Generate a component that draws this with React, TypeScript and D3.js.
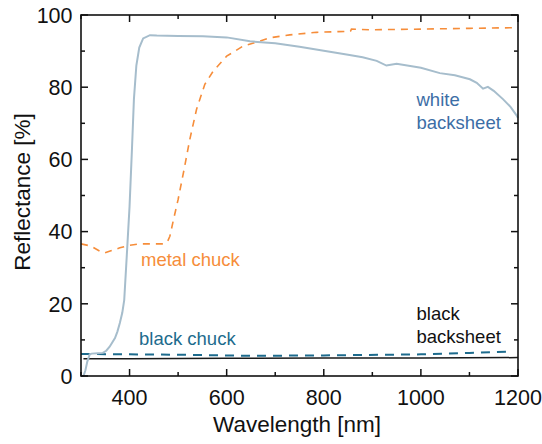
import React from "react";
import * as d3 from "d3";

const whiteWl = [300, 305, 309, 313, 318, 322, 335, 345, 352, 359, 370, 375, 380, 385, 389, 395, 400, 405, 409, 414, 420, 428, 442, 456, 500, 551, 600, 648, 700, 750, 800, 850, 880, 909, 929, 950, 1000, 1039, 1070, 1101, 1115, 1128, 1138, 1150, 1169, 1185, 1197, 1200];
const whiteVal = [0, 0, 1.5, 4, 6, 6.2, 6.3, 6.4, 7.0, 8.1, 10.5, 12.3, 14.7, 17.5, 21, 35, 47, 63, 76.7, 86, 91, 93.5, 94.4, 94.3, 94.2, 94.1, 93.8, 92.7, 92.2, 91.2, 90.1, 89.0, 88.3, 87.3, 86.0, 86.5, 85.4, 83.9, 83.3, 82.2, 81.2, 79.6, 80.1, 79.0, 76.7, 74.5, 72.2, 71.5];

const metalWl = [300, 320, 340, 349, 360, 380, 400, 421, 450, 469, 478, 483, 490, 500, 512, 524, 538, 555, 572, 600, 634, 662, 689, 730, 785, 830, 855, 857, 895, 950, 1000, 1100, 1200];
const metalVal = [36.6, 36.0, 34.5, 34.1, 34.6, 35.5, 36.2, 36.6, 36.6, 36.6, 37.2, 38.7, 43, 48.9, 57, 65.5, 73.9, 80.8, 84.4, 88.6, 91.4, 92.5, 93.7, 94.5, 95.2, 95.4, 95.5, 96.1, 95.9, 96.0, 96.1, 96.3, 96.5];

const blackChuckWl = [300, 400, 500, 650, 800, 1000, 1100, 1185];
const blackChuckVal = [6.1, 6.0, 5.9, 5.6, 5.7, 6.0, 6.4, 6.75];

const blackSheetWl = [305, 400, 600, 800, 1000, 1200];
const blackSheetVal = [4.8, 4.8, 4.9, 5.0, 5.0, 5.1];

const xMajor = [400, 600, 800, 1000, 1200];
const xMinor = [300, 500, 700, 900, 1100];
const yMajor = [0, 20, 40, 60, 80, 100];
const yMinor = [10, 30, 50, 70, 90];

const FONT = "'Liberation Sans', Arial, Helvetica, sans-serif";

export default function App() {
  const L = 81, R = 518, T = 15, B = 376;
  const x = d3.scaleLinear().domain([300, 1200]).range([L, R]);
  const y = d3.scaleLinear().domain([0, 100]).range([B, T]);
  const mk = (wl: number[], v: number[]) =>
    d3.line<number>().x((_, i) => x(wl[i])).y((d) => y(d))(v) || "";

  const maj = 7, min = 4;
  return (
    <svg width={542} height={444} style={{ position: "absolute", left: 0, top: 0, background: "#fff" }} fontFamily={FONT}>
      <path d={mk(blackSheetWl, blackSheetVal)} fill="none" stroke="#1a1a1a" strokeWidth={1.5} />
      <path d={mk(blackChuckWl, blackChuckVal)} fill="none" stroke="#1d6b8d" strokeWidth={2} strokeDasharray="9,7" />
      <path d={mk(metalWl, metalVal)} fill="none" stroke="#f68d3a" strokeWidth={1.6} strokeDasharray="7,6" />
      <path d={mk(whiteWl, whiteVal)} fill="none" stroke="#a6bdcc" strokeWidth={2} />

      <rect x={L} y={T} width={R - L} height={B - T} fill="none" stroke="#111" strokeWidth={1.6} />
      {xMajor.map((t) => (
        <g key={"xm" + t}>
          <line x1={x(t)} x2={x(t)} y1={B} y2={B - maj} stroke="#111" strokeWidth={1.5} />
          <line x1={x(t)} x2={x(t)} y1={T} y2={T + maj} stroke="#111" strokeWidth={1.5} />
          <text x={x(t)} y={B + 29} fontSize={21.5} textAnchor="middle" fill="#111">{t}</text>
        </g>
      ))}
      {xMinor.map((t) => (
        <g key={"xn" + t}>
          <line x1={x(t)} x2={x(t)} y1={B} y2={B - min} stroke="#111" strokeWidth={1.5} />
          <line x1={x(t)} x2={x(t)} y1={T} y2={T + min} stroke="#111" strokeWidth={1.5} />
        </g>
      ))}
      {yMajor.map((t) => (
        <g key={"ym" + t}>
          <line x1={L} x2={L + maj} y1={y(t)} y2={y(t)} stroke="#111" strokeWidth={1.5} />
          <line x1={R} x2={R - maj} y1={y(t)} y2={y(t)} stroke="#111" strokeWidth={1.5} />
          <text x={L - 8.5} y={y(t)} dy="0.36em" fontSize={21.5} textAnchor="end" fill="#111">{t}</text>
        </g>
      ))}
      {yMinor.map((t) => (
        <g key={"yn" + t}>
          <line x1={L} x2={L + min} y1={y(t)} y2={y(t)} stroke="#111" strokeWidth={1.5} />
          <line x1={R} x2={R - min} y1={y(t)} y2={y(t)} stroke="#111" strokeWidth={1.5} />
        </g>
      ))}

      <text x={297} y={432} fontSize={22.5} textAnchor="middle" fill="#111">Wavelength [nm]</text>
      <text transform="translate(30,192) rotate(-90)" fontSize={22.5} textAnchor="middle" fill="#111">Reflectance [%]</text>

      <text x={141} y={266} fontSize={18.5} fill="#f68d3a">metal chuck</text>
      <text x={139} y={345} fontSize={18.5} fill="#1d6b8d">black chuck</text>
      <text x={416.5} y={105.5} fontSize={18.5} fill="#3c6ea6">white</text>
      <text x={416.5} y={128.5} fontSize={18.5} fill="#3c6ea6">backsheet</text>
      <text x={416.5} y={319.5} fontSize={18.5} fill="#111">black</text>
      <text x={416.5} y={342.5} fontSize={18.5} fill="#111">backsheet</text>
    </svg>
  );
}
